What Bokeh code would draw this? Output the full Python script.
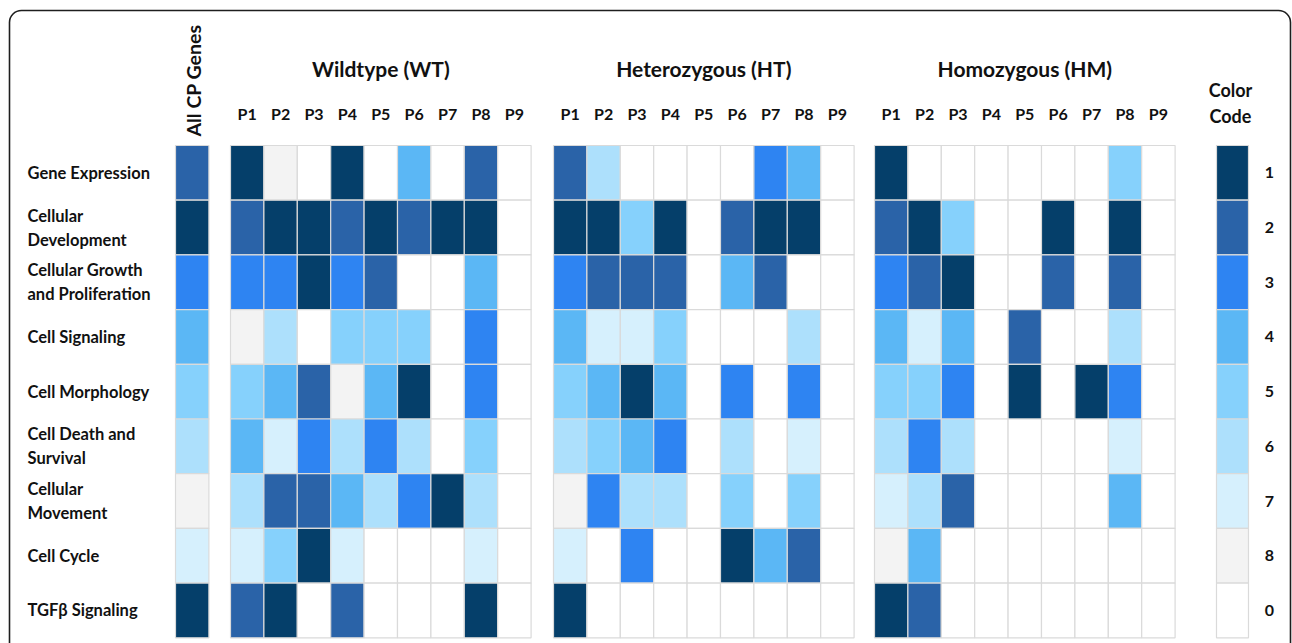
import math
from bokeh.plotting import figure
from bokeh.models import ColumnDataSource, Range1d, BoxAnnotation
from bokeh.core.properties import value
from bokeh.embed import file_html
from bokeh.resources import INLINE

# ---------------- data ----------------
categories = ["Gene Expression", "Cellular\nDevelopment", "Cellular Growth\nand Proliferation",
              "Cell Signaling", "Cell Morphology", "Cell Death and\nSurvival",
              "Cellular\nMovement", "Cell Cycle", "TGF\u03b2 Signaling"]
passages = ["P1", "P2", "P3", "P4", "P5", "P6", "P7", "P8", "P9"]
groups = ["Wildtype (WT)", "Heterozygous (HT)", "Homozygous (HM)"]

all_cp = [2, 1, 3, 4, 5, 6, 8, 7, 1]

wt = [
    [1, 8, 0, 1, 0, 4, 0, 2, 0],
    [2, 1, 1, 2, 1, 2, 1, 1, 0],
    [3, 3, 1, 3, 2, 0, 0, 4, 0],
    [8, 6, 0, 5, 5, 5, 0, 3, 0],
    [5, 4, 2, 8, 4, 1, 0, 3, 0],
    [4, 7, 3, 6, 3, 6, 0, 5, 0],
    [6, 2, 2, 4, 6, 3, 1, 6, 0],
    [7, 5, 1, 7, 0, 0, 0, 7, 0],
    [2, 1, 0, 2, 0, 0, 0, 1, 0],
]
ht = [
    [2, 6, 0, 0, 0, 0, 3, 4, 0],
    [1, 1, 5, 1, 0, 2, 1, 1, 0],
    [3, 2, 2, 2, 0, 4, 2, 0, 0],
    [4, 7, 7, 5, 0, 0, 0, 6, 0],
    [5, 4, 1, 4, 0, 3, 0, 3, 0],
    [6, 5, 4, 3, 0, 6, 0, 7, 0],
    [8, 3, 6, 6, 0, 5, 0, 5, 0],
    [7, 0, 3, 0, 0, 1, 4, 2, 0],
    [1, 0, 0, 0, 0, 0, 0, 0, 0],
]
hm = [
    [1, 0, 0, 0, 0, 0, 0, 5, 0],
    [2, 1, 5, 0, 0, 1, 0, 1, 0],
    [3, 2, 1, 0, 0, 2, 0, 2, 0],
    [4, 7, 4, 0, 2, 0, 0, 6, 0],
    [5, 5, 3, 0, 1, 0, 1, 3, 0],
    [6, 3, 6, 0, 0, 0, 0, 7, 0],
    [7, 6, 2, 0, 0, 0, 0, 4, 0],
    [8, 4, 0, 0, 0, 0, 0, 0, 0],
    [1, 2, 0, 0, 0, 0, 0, 0, 0],
]
legend_codes = [1, 2, 3, 4, 5, 6, 7, 8, 0]

palette = {1: "#053F6A", 2: "#2A63A8", 3: "#2E84F2", 4: "#5BB7F5", 5: "#86D1FC",
           6: "#ADE0FC", 7: "#D6F0FD", 8: "#F3F3F3", 0: "#FFFFFF"}

# ---------------- layout ----------------
W, H = 1292, 643
TOP = 145.0
ROW_H = 54.7
CELL_W = 33.4
ALLCP_X0 = 175.0
GROUP_X0 = [230.0, 553.0, 874.0]
LEGEND_X0 = 1216.0
LEGEND_W = 32.0
FONT = "Lato"
TXT = "#111111"

p = figure(width=W, height=H, x_range=Range1d(0, W), y_range=Range1d(H, 0),
           output_backend="svg", toolbar_location=None, min_border=0,
           x_axis_location=None, y_axis_location=None, outline_line_color=None)
p.grid.visible = False
p.background_fill_color = "white"

# outer rounded frame
p.add_layout(BoxAnnotation(left=9, right=1290, top=10, bottom=720, border_radius=12,
                           fill_color=None, fill_alpha=0, line_color="#1e1e1e",
                           line_alpha=1.0, line_width=1.6))

def row_y(i):
    return TOP + (i + 0.5) * ROW_H

# cells
cx, cy, cw, cc = [], [], [], []
for i, v in enumerate(all_cp):
    cx.append(ALLCP_X0 + CELL_W / 2); cy.append(row_y(i)); cw.append(CELL_W); cc.append(palette[v])
for g, mat in enumerate([wt, ht, hm]):
    for i, row in enumerate(mat):
        for j, v in enumerate(row):
            cx.append(GROUP_X0[g] + (j + 0.5) * CELL_W); cy.append(row_y(i))
            cw.append(CELL_W); cc.append(palette[v])
for i, v in enumerate(legend_codes):
    cx.append(LEGEND_X0 + LEGEND_W / 2); cy.append(row_y(i)); cw.append(LEGEND_W); cc.append(palette[v])

p.rect(x="x", y="y", width="w", height=ROW_H, fill_color="c",
       line_color="#dadada", line_width=1.2,
       source=ColumnDataSource(dict(x=cx, y=cy, w=cw, c=cc)))

# row labels
p.text(x=[27] * len(categories), y=[row_y(i) for i in range(len(categories))], text=categories,
       text_font=value(FONT), text_font_style="bold", text_font_size="16.5px", text_color=TXT,
       text_align="left", text_baseline="middle", text_line_height=1.2)

# group titles
p.text(x=[GROUP_X0[g] + 4.5 * CELL_W for g in range(3)], y=[68] * 3, text=groups,
       text_font=value(FONT), text_font_style="bold", text_font_size="21px", text_color=TXT,
       text_align="center", text_baseline="middle")

# passage labels
px, pt = [], []
for g in range(3):
    for j, lab in enumerate(passages):
        px.append(GROUP_X0[g] + (j + 0.5) * CELL_W); pt.append(lab)
p.text(x=px, y=[113] * len(px), text=pt,
       text_font=value(FONT), text_font_style="bold", text_font_size="16px", text_color=TXT,
       text_align="center", text_baseline="middle")

# All CP Genes (vertical)
p.text(x=[ALLCP_X0 + CELL_W / 2 + 1], y=[80], text=["All CP Genes"], angle=math.pi / 2,
       text_font=value(FONT), text_font_style="bold", text_font_size="19.5px", text_color=TXT,
       text_align="center", text_baseline="middle")

# Color code header and numbers
p.text(x=[1230, 1230], y=[89, 115], text=["Color", "Code"],
       text_font=value(FONT), text_font_style="bold", text_font_size="18px", text_color=TXT,
       text_align="center", text_baseline="middle")
p.text(x=[1269] * len(legend_codes), y=[row_y(i) for i in range(len(legend_codes))],
       text=[str(c) for c in legend_codes],
       text_font=value(FONT), text_font_style="bold", text_font_size="16px", text_color=TXT,
       text_align="center", text_baseline="middle")

open("out.html", "w").write(file_html(p, INLINE))
